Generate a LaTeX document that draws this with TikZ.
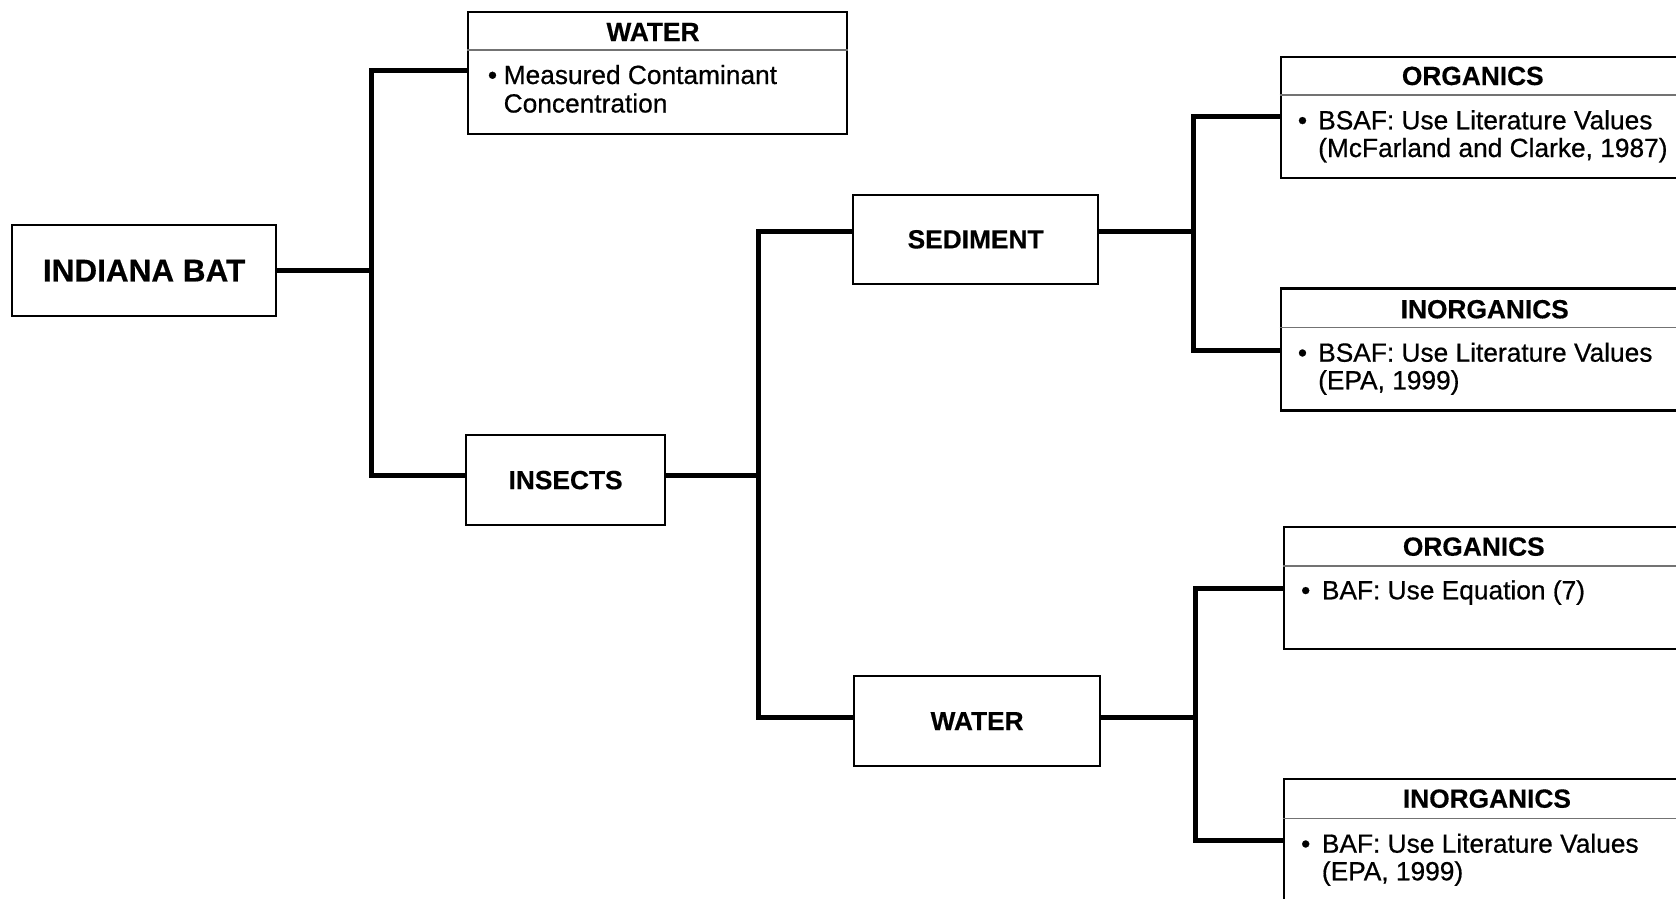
\documentclass[tikz,border=0pt]{standalone}
\usepackage{fontspec}
\setmainfont{Liberation Sans}
\newfontface\bodyface{Liberation Sans}[FakeBold=0.6]
\newfontface\headface{Liberation Sans Bold}[FakeBold=0.4]
\begin{document}
\begin{tikzpicture}[x=1pt,y=-1pt,
  box/.style={draw, line width=2.2pt, inner sep=0pt, anchor=north west},
  lbl/.style={font=\fontsize{26.3}{29}\selectfont\headface},
  hdr/.style={font=\fontsize{26.3}{29}\selectfont\headface, inner sep=0pt, anchor=base west},
  hdrc/.style={font=\fontsize{26.3}{29}\selectfont\headface, inner sep=0pt, anchor=base},
  body/.style={font=\fontsize{26.3}{29}\selectfont\bodyface, inner sep=0pt, anchor=base west},
  bul/.style={font=\fontsize{26.3}{29}\selectfont\bodyface, inner sep=0pt, anchor=base},
  conn/.style={line width=5pt, line join=miter},
  divider/.style={line width=1.2pt, black!55}]
\useasboundingbox (0,0) rectangle (1676,898);
\clip (0,0) rectangle (1676,898);

% left-side boxes
\node[box, font=\fontsize{31.5}{34}\selectfont\headface, minimum width=264pt, minimum height=91pt] (bat) at (11,224) {INDIANA BAT};
\node[box, lbl, minimum width=199pt, minimum height=90pt] (insects) at (465,434) {INSECTS};
\node[box, lbl, minimum width=245pt, minimum height=89.5pt] (sediment) at (852,193.5) {SEDIMENT};
\node[box, lbl, minimum width=246pt, minimum height=90pt] (waterM) at (853,675) {WATER};

% top water box
\node[box, minimum width=379pt, minimum height=121.5pt] (waterT) at (467,11) {};
\draw[divider] ([yshift=-39pt]waterT.north west) -- ([yshift=-39pt]waterT.north east);
\node[hdrc] (waterTh) at (653,41) {WATER};
\node[bul] (waterTb) at (492.5,84) {\textbullet};
\node[body] (waterT1) at (503.5,84) {Measured Contaminant};
\node[body] (waterT2) at (503.5,112.5) {Concentration};

% organics (sediment)
\node[box, minimum width=420pt, minimum height=121pt] (orgT) at (1279.5,55.7) {};
\draw[divider] ([yshift=-39.3pt]orgT.north west) -- ([yshift=-39.3pt]orgT.north east);
\node[hdr] (orgTh) at (1401.7,85) {ORGANICS};
\node[bul] (orgTb) at (1302.5,129.3) {\textbullet};
\node[body] (orgT1) at (1318,129.3) {BSAF: Use Literature Values};
\node[body] (orgT2) at (1318,157) {(McFarland and Clarke, 1987)};

% inorganics (sediment)
\node[box, minimum width=420pt, minimum height=122pt] (inorgT) at (1279.5,287.3) {};
\draw[divider] ([yshift=-40pt]inorgT.north west) -- ([yshift=-40pt]inorgT.north east);
\node[hdr] (inorgTh) at (1400.5,318.3) {INORGANICS};
\node[bul] (inorgTb) at (1302.5,361.7) {\textbullet};
\node[body] (inorgT1) at (1318,361.7) {BSAF: Use Literature Values};
\node[body] (inorgT2) at (1318,389.3) {(EPA, 1999)};

% organics (water)
\node[box, minimum width=420pt, minimum height=122pt] (orgB) at (1282.5,525.7) {};
\draw[divider] ([yshift=-40.3pt]orgB.north west) -- ([yshift=-40.3pt]orgB.north east);
\node[hdr] (orgBh) at (1402.7,555.7) {ORGANICS};
\node[bul] (orgBb) at (1305.7,599.3) {\textbullet};
\node[body] (orgB1) at (1321.7,599.3) {BAF: Use Equation (7)};

% inorganics (water)
\node[box, minimum width=420pt, minimum height=160pt] (inorgB) at (1282.5,777.7) {};
\draw[divider] ([yshift=-40.6pt]inorgB.north west) -- ([yshift=-40.6pt]inorgB.north east);
\node[hdr] (inorgBh) at (1402.7,807.7) {INORGANICS};
\node[bul] (inorgBb) at (1305.7,852.7) {\textbullet};
\node[body] (inorgB1) at (1321.7,852.7) {BAF: Use Literature Values};
\node[body] (inorgB2) at (1321.7,880.3) {(EPA, 1999)};

% junctions
\coordinate (t1a) at (371,70.6);
\coordinate (t1b) at (371,475);
\coordinate (t2a) at (758,231.7);
\coordinate (t2b) at (758,717);
\coordinate (t3a) at (1193.5,116);
\coordinate (t3b) at (1193.5,350);
\coordinate (t4a) at (1195.5,588);
\coordinate (t4b) at (1195.5,840);

% connectors
\draw[conn] (bat.east) -- (bat.east -| t1a);
\draw[conn] (waterT.west |- t1a) -- (t1a) -- (t1b) -- (insects.west |- t1b);
\draw[conn] (insects.east |- t1b) -- (t2a |- t1b);
\draw[conn] (sediment.west |- t2a) -- (t2a) -- (t2b) -- (waterM.west |- t2b);
\draw[conn] (sediment.east |- t2a) -- (t3a |- t2a);
\draw[conn] (orgT.west |- t3a) -- (t3a) -- (t3b) -- (inorgT.west |- t3b);
\draw[conn] (waterM.east |- t2b) -- (t4a |- t2b);
\draw[conn] (orgB.west |- t4a) -- (t4a) -- (t4b) -- (inorgB.west |- t4b);
\end{tikzpicture}
\end{document}
